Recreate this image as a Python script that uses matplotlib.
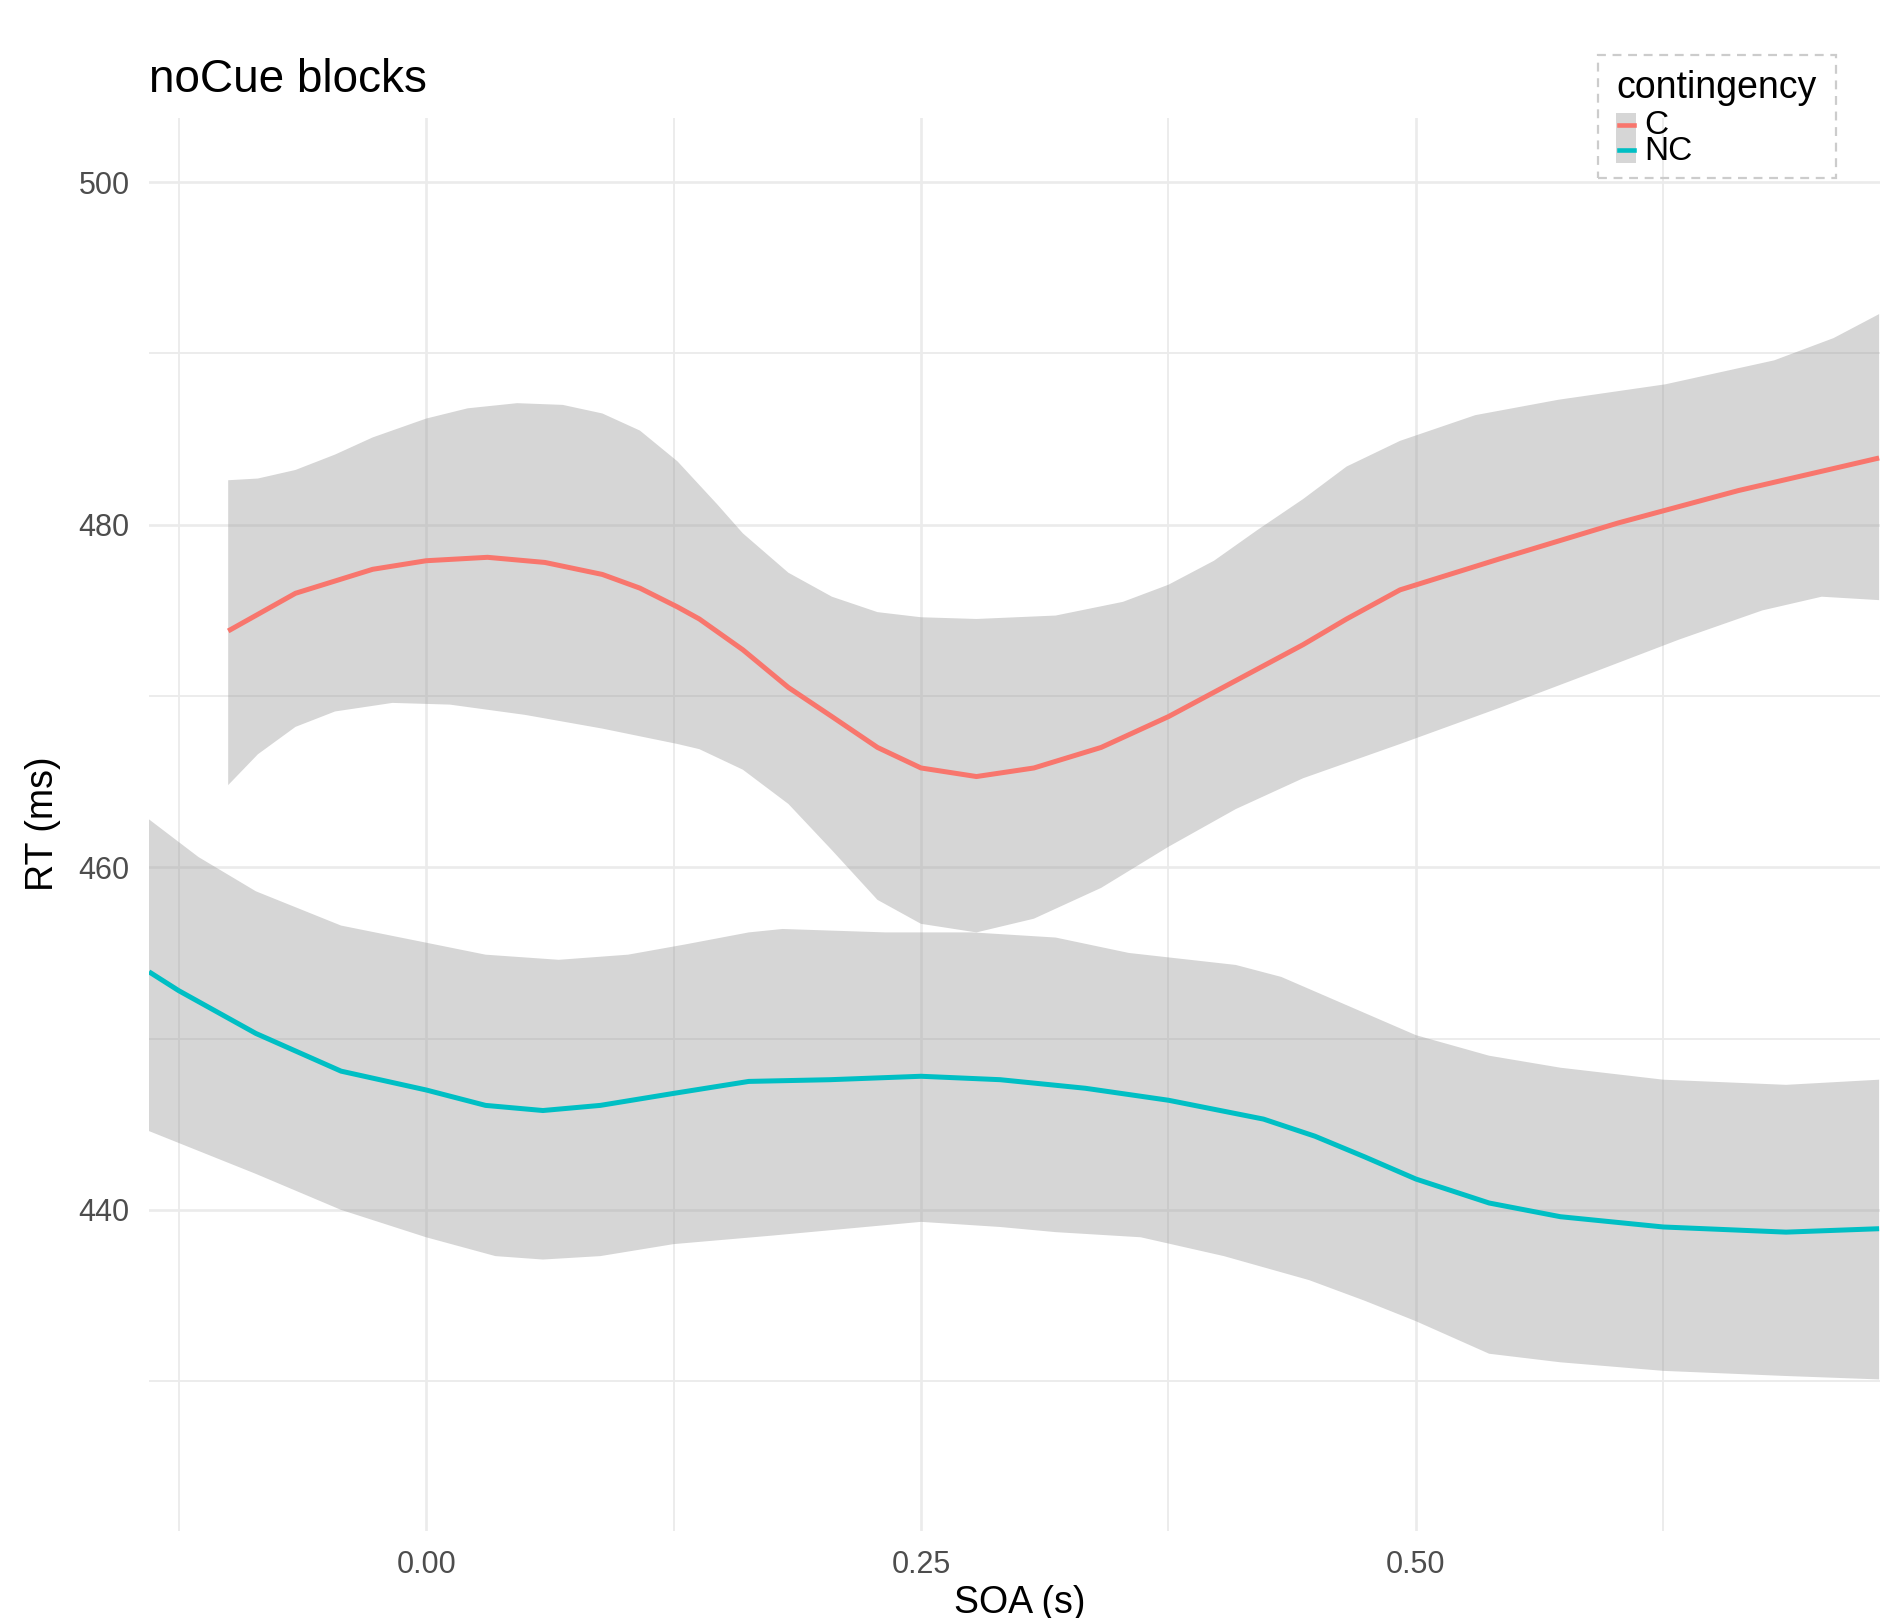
import numpy as np
import matplotlib.pyplot as plt
from matplotlib.patches import Rectangle
from matplotlib.lines import Line2D

plt.rcParams['font.family'] = ['Liberation Sans', 'DejaVu Sans']

# ---- data (loess fits with 95% bands) ----
c_x = [-0.100, -0.066, -0.027, 0.000, 0.031, 0.060, 0.089, 0.108, 0.127, 0.138,
       0.160, 0.183, 0.205, 0.228, 0.250, 0.278, 0.307, 0.341, 0.375, 0.409,
       0.443, 0.465, 0.492, 0.542, 0.602, 0.663, 0.734]
c_fit = [473.8, 476.0, 477.4, 477.9, 478.1, 477.8, 477.1, 476.3, 475.2, 474.5,
         472.7, 470.5, 468.8, 467.0, 465.8, 465.3, 465.8, 467.0, 468.8, 470.9,
         473.0, 474.5, 476.2, 478.0, 480.1, 482.0, 483.9]

c_up_x = [-0.100, -0.085, -0.066, -0.046, -0.027, 0.000, 0.021, 0.046, 0.069, 0.089,
          0.108, 0.127, 0.147, 0.160, 0.183, 0.205, 0.228, 0.250, 0.278, 0.318,
          0.352, 0.375, 0.398, 0.420, 0.443, 0.465, 0.492, 0.530, 0.572, 0.626,
          0.681, 0.711, 0.734]
c_up = [482.6, 482.7, 483.2, 484.1, 485.1, 486.2, 486.8, 487.1, 487.0, 486.5,
        485.5, 483.7, 481.2, 479.5, 477.2, 475.8, 474.9, 474.6, 474.5, 474.7,
        475.5, 476.5, 477.9, 479.7, 481.5, 483.4, 484.9, 486.4, 487.3, 488.2,
        489.6, 490.9, 492.3]

c_lo_x = [-0.100, -0.085, -0.066, -0.046, -0.017, 0.012, 0.050, 0.089, 0.127, 0.138,
          0.160, 0.183, 0.205, 0.228, 0.250, 0.278, 0.307, 0.341, 0.375, 0.409,
          0.443, 0.492, 0.542, 0.590, 0.633, 0.675, 0.705, 0.734]
c_lo = [464.8, 466.6, 468.2, 469.1, 469.6, 469.5, 468.9, 468.1, 467.2, 466.9,
        465.7, 463.7, 461.0, 458.1, 456.7, 456.2, 457.0, 458.8, 461.2, 463.4,
        465.2, 467.2, 469.3, 471.4, 473.3, 475.0, 475.8, 475.6]

nc_x = [-0.140, -0.125, -0.086, -0.043, 0.000, 0.030, 0.059, 0.088, 0.125, 0.163,
        0.204, 0.250, 0.290, 0.333, 0.375, 0.423, 0.449, 0.474, 0.500, 0.537,
        0.573, 0.625, 0.687, 0.734]
nc_fit = [453.9, 452.8, 450.3, 448.1, 447.0, 446.1, 445.8, 446.1, 446.8, 447.5,
          447.6, 447.8, 447.6, 447.1, 446.4, 445.3, 444.3, 443.1, 441.8, 440.4,
          439.6, 439.0, 438.7, 438.9]

nc_up_x = [-0.140, -0.115, -0.086, -0.043, 0.000, 0.030, 0.067, 0.102, 0.131, 0.163,
           0.180, 0.232, 0.276, 0.318, 0.355, 0.409, 0.432, 0.460, 0.500, 0.537,
           0.573, 0.625, 0.687, 0.734]
nc_up = [462.8, 460.6, 458.6, 456.6, 455.6, 454.9, 454.6, 454.9, 455.5, 456.2,
         456.4, 456.2, 456.2, 455.9, 455.0, 454.3, 453.6, 452.2, 450.2, 449.0,
         448.3, 447.6, 447.3, 447.6]

nc_lo_x = [-0.140, -0.086, -0.043, 0.000, 0.035, 0.059, 0.088, 0.125, 0.175, 0.250,
           0.290, 0.318, 0.361, 0.403, 0.446, 0.474, 0.500, 0.537, 0.573, 0.625,
           0.687, 0.734]
nc_lo = [444.6, 442.1, 440.0, 438.4, 437.3, 437.1, 437.3, 438.0, 438.5, 439.3,
         439.0, 438.7, 438.4, 437.3, 435.9, 434.7, 433.5, 431.6, 431.1, 430.6,
         430.3, 430.1]

x_ticks = [0.00, 0.25, 0.50]
x_tick_labels = ["0.00", "0.25", "0.50"]
x_major = [0.00, 0.25, 0.50, 0.75]
x_minor = [-0.125, 0.125, 0.375, 0.625]
y_ticks = [440, 460, 480, 500]
y_minor = [430, 450, 470, 490]

col_c = "#F8766D"
col_nc = "#00BFC4"
band = "#999999"
grid_col = "#EBEBEB"

W, H = 1881, 1618
fig = plt.figure(figsize=(W / 100, H / 100), dpi=100)
ax = fig.add_axes([149 / W, 1 - 1531 / H, (1891 - 149) / W, (1531 - 118) / H])

# grid sits under the translucent bands
for v in x_major:
    ax.axvline(v, color=grid_col, lw=1.9, zorder=0)
for v in x_minor:
    ax.axvline(v, color=grid_col, lw=1.3, zorder=0)
for v in y_ticks:
    ax.axhline(v, color=grid_col, lw=1.9, zorder=0)
for v in y_minor:
    ax.axhline(v, color=grid_col, lw=1.3, zorder=0)

# confidence bands
ax.fill(np.r_[c_up_x, c_lo_x[::-1]], np.r_[c_up, c_lo[::-1]],
        color=band, alpha=0.4, lw=0, zorder=1)
ax.fill(np.r_[nc_up_x, nc_lo_x[::-1]], np.r_[nc_up, nc_lo[::-1]],
        color=band, alpha=0.4, lw=0, zorder=1)

ax.plot(c_x, c_fit, color=col_c, lw=3.6, zorder=2,
        solid_capstyle="butt", solid_joinstyle="round")
ax.plot(nc_x, nc_fit, color=col_nc, lw=3.6, zorder=2,
        solid_capstyle="butt", solid_joinstyle="round")

ax.set_xlim(-0.14, 0.74)
ax.set_ylim(421.25, 503.75)
ax.set_xticks(x_ticks)
ax.set_xticklabels(x_tick_labels)
ax.set_yticks(y_ticks)
ax.tick_params(length=0, labelsize=22, labelcolor="#4D4D4D", pad=14)
for s in ax.spines.values():
    s.set_visible(False)
ax.set_facecolor("none")

fig.text(1020 / W, 1 - 1603 / H, "SOA (s)", fontsize=27, ha="center", va="center")
fig.text(43 / W, 1 - 824 / H, "RT (ms)", fontsize=27, ha="center", va="center",
         rotation=90)
fig.text(149 / W, 1 - 80 / H, "noCue blocks", fontsize=33, ha="left", va="center")


# legend, ggplot style, drawn by hand in figure pixels
def fx(px):
    return px / W


def fy(py):
    return 1 - py / H


fig.patches.append(Rectangle((fx(1598), fy(178)), fx(1836) - fx(1598), fy(55) - fy(178),
                             transform=fig.transFigure, fill=False, ec="#CCCCCC",
                             lw=1.6, ls=(0, (4, 3))))
fig.text(fx(1616), fy(88), "contingency", fontsize=27, ha="left", va="center")
fig.patches.append(Rectangle((fx(1616), fy(163)), fx(1636) - fx(1616), fy(113) - fy(163),
                             transform=fig.transFigure, fc="#D6D6D6", ec="none"))
fig.lines.append(Line2D([fx(1619), fx(1634)], [fy(125), fy(125)],
                        transform=fig.transFigure, color=col_c, lw=3.3))
fig.lines.append(Line2D([fx(1619), fx(1634)], [fy(150), fy(150)],
                        transform=fig.transFigure, color=col_nc, lw=3.3))
fig.text(fx(1644), fy(125), "C", fontsize=24, ha="left", va="center")
fig.text(fx(1644), fy(151), "NC", fontsize=24, ha="left", va="center")

fig.savefig("out.png", dpi=100, facecolor="white")
